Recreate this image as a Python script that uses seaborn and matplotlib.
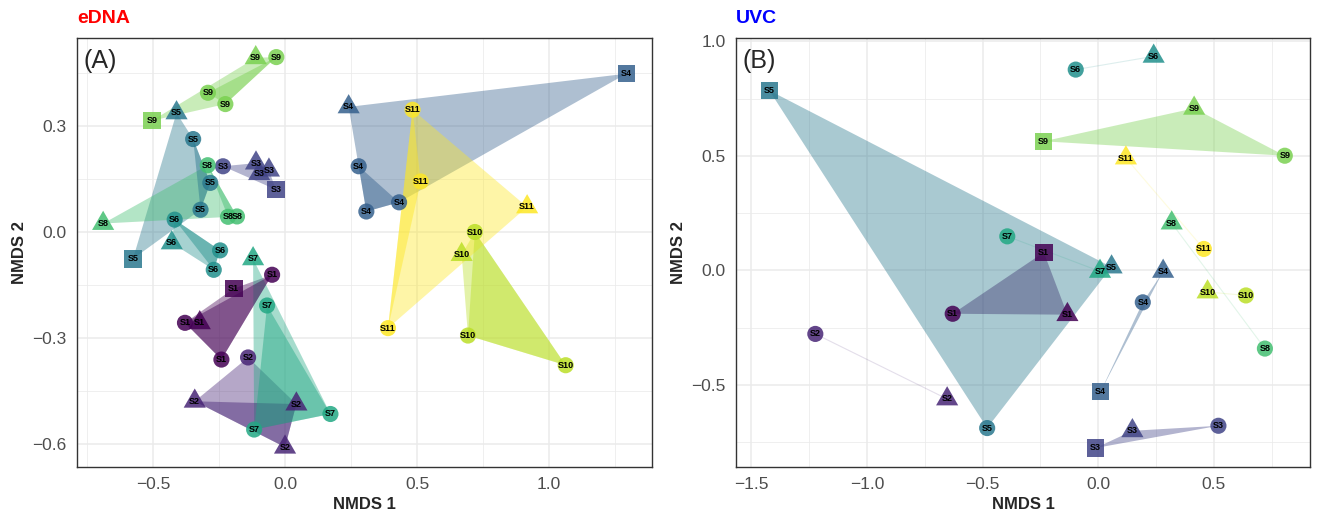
import numpy as np
import pandas as pd
import matplotlib
matplotlib.use('Agg')
import matplotlib.pyplot as plt
import seaborn as sns
from matplotlib.ticker import FuncFormatter, MultipleLocator

# sites and colours (viridis, 11 levels)
sites = ['S1', 'S2', 'S3', 'S4', 'S5', 'S6', 'S7', 'S8', 'S9', 'S10', 'S11']
site_colors = ['#440154', '#482576', '#414487', '#35608D', '#2A788E', '#21908C',
               '#22A884', '#43BF71', '#7AD151', '#BBDF27', '#FDE725']

# eDNA ordination (panel A)
edna_site = ['S1', 'S1', 'S1', 'S1', 'S1',
             'S2', 'S2', 'S2', 'S2',
             'S3', 'S3', 'S3', 'S3', 'S3',
             'S4', 'S4', 'S4', 'S4', 'S4',
             'S5', 'S5', 'S5', 'S5', 'S5',
             'S6', 'S6', 'S6', 'S6',
             'S7', 'S7', 'S7', 'S7',
             'S8', 'S8', 'S8', 'S8',
             'S9', 'S9', 'S9', 'S9', 'S9',
             'S10', 'S10', 'S10', 'S10',
             'S11', 'S11', 'S11', 'S11']
edna_shape = ['circle', 'square', 'circle', 'triangle', 'circle',
              'circle', 'triangle', 'triangle', 'triangle',
              'circle', 'triangle', 'triangle', 'triangle', 'square',
              'triangle', 'circle', 'circle', 'circle', 'square',
              'triangle', 'circle', 'circle', 'circle', 'square',
              'circle', 'triangle', 'circle', 'circle',
              'triangle', 'circle', 'circle', 'circle',
              'circle', 'circle', 'circle', 'triangle',
              'triangle', 'circle', 'circle', 'circle', 'square',
              'circle', 'triangle', 'circle', 'circle',
              'circle', 'circle', 'triangle', 'circle']
edna_x = [-0.049, -0.194, -0.379, -0.323, -0.241,
          -0.140, -0.342, 0.043, 0.000,
          -0.235, -0.110, -0.098, -0.061, -0.035,
          0.241, 0.279, 0.308, 0.432, 1.293,
          -0.411, -0.348, -0.283, -0.320, -0.576,
          -0.418, -0.429, -0.246, -0.270,
          -0.121, -0.068, 0.172, -0.117,
          -0.293, -0.216, -0.182, -0.689,
          -0.111, -0.033, -0.292, -0.226, -0.504,
          0.719, 0.669, 0.693, 1.063,
          0.483, 0.514, 0.917, 0.390]
edna_y = [-0.120, -0.159, -0.256, -0.256, -0.360,
          -0.354, -0.478, -0.486, -0.608,
          0.187, 0.196, 0.166, 0.176, 0.121,
          0.355, 0.187, 0.059, 0.085, 0.449,
          0.338, 0.264, 0.140, 0.064, -0.075,
          0.036, -0.030, -0.051, -0.106,
          -0.075, -0.207, -0.514, -0.558,
          0.190, 0.044, 0.045, 0.025,
          0.494, 0.496, 0.395, 0.363, 0.316,
          0.001, -0.063, -0.292, -0.376,
          0.347, 0.144, 0.072, -0.271]

# UVC ordination (panel B)
uvc_site = ['S1', 'S1', 'S1', 'S2', 'S2', 'S3', 'S3', 'S3', 'S4', 'S4', 'S4',
            'S5', 'S5', 'S5', 'S6', 'S6', 'S7', 'S7', 'S8', 'S8',
            'S9', 'S9', 'S9', 'S10', 'S10', 'S11', 'S11']
uvc_shape = ['circle', 'square', 'triangle', 'circle', 'triangle',
             'circle', 'triangle', 'square', 'circle', 'triangle', 'square',
             'square', 'triangle', 'circle', 'circle', 'triangle',
             'circle', 'triangle', 'triangle', 'circle',
             'triangle', 'square', 'circle', 'triangle', 'circle',
             'triangle', 'circle']
uvc_x = [-0.629, -0.235, -0.133, -1.223, -0.653,
         0.520, 0.148, -0.011, 0.193, 0.281, 0.011,
         -1.422, 0.058, -0.480, -0.097, 0.240,
         -0.393, 0.008, 0.318, 0.721,
         0.415, -0.236, 0.807, 0.473, 0.639,
         0.120, 0.457]
uvc_y = [-0.189, 0.079, -0.193, -0.277, -0.561,
         -0.678, -0.700, -0.775, -0.139, -0.004, -0.528,
         0.786, 0.015, -0.688, 0.877, 0.935,
         0.149, -0.004, 0.207, -0.341,
         0.708, 0.564, 0.501, -0.094, -0.109,
         0.491, 0.094]

palette = dict(zip(sites, site_colors))
tri = [(-1, -0.577), (1, -0.577), (0, 1.155)]
markers = {'circle': ('o', 135), 'square': ('s', 160), 'triangle': (tri, 340)}


def convex_hull(pts):
    pts = sorted(set(pts))
    if len(pts) < 3:
        return pts
    def cross(o, a, b):
        return (a[0] - o[0]) * (b[1] - o[1]) - (a[1] - o[1]) * (b[0] - o[0])
    lower, upper = [], []
    for p in pts:
        while len(lower) >= 2 and cross(lower[-2], lower[-1], p) <= 0:
            lower.pop()
        lower.append(p)
    for p in reversed(pts):
        while len(upper) >= 2 and cross(upper[-2], upper[-1], p) <= 0:
            upper.pop()
        upper.append(p)
    return lower[:-1] + upper[:-1]


def draw_hull(ax, sub, color, alpha):
    pts = list(zip(sub['x'], sub['y']))
    if len(pts) < 2:
        return
    hull = convex_hull(pts)
    hx, hy = zip(*hull)
    if len(hull) < 3:
        ax.plot(hx, hy, color=color, alpha=0.15, lw=0.8, zorder=1)
    else:
        ax.fill(hx, hy, color=color, alpha=alpha, lw=0, zorder=1)


minus_fmt = FuncFormatter(lambda v, p: ('%.1f' % v).replace('-', '\u2212'))


def draw_panel(ax, df, xlim, ylim, xstep, ystep, tag, title, tcolor, shape_hulls):
    for s in sites:
        draw_hull(ax, df[df['site'] == s], palette[s], 0.4)
    if shape_hulls:
        for s in sites:
            for shp in ['circle', 'triangle', 'square']:
                sub = df[(df['site'] == s) & (df['shape'] == shp)]
                if len(sub) >= 3:
                    draw_hull(ax, sub, palette[s], 0.45)
    for shp, (m, size) in markers.items():
        sub = df[df['shape'] == shp]
        sns.scatterplot(data=sub, x='x', y='y', hue='site', palette=palette,
                        marker=m, s=size, alpha=0.85, linewidth=0,
                        legend=False, ax=ax, zorder=3)
    for _, r in df.iterrows():
        ax.text(r['x'], r['y'], r['site'], ha='center', va='center',
                fontsize=6.5, fontweight='bold', color='black', zorder=4)

    ax.set_xlim(*xlim)
    ax.set_ylim(*ylim)
    ax.xaxis.set_major_locator(MultipleLocator(xstep))
    ax.yaxis.set_major_locator(MultipleLocator(ystep))
    ax.xaxis.set_minor_locator(MultipleLocator(xstep / 2))
    ax.yaxis.set_minor_locator(MultipleLocator(ystep / 2))
    ax.xaxis.set_major_formatter(minus_fmt)
    ax.yaxis.set_major_formatter(minus_fmt)
    ax.grid(which='major', color='#EBEBEB', lw=1.1)
    ax.grid(which='minor', color='#EBEBEB', lw=0.55)
    ax.set_axisbelow(True)
    ax.tick_params(which='major', length=4, width=1, color='#333333',
                   labelsize=12.5, labelcolor='#4D4D4D')
    ax.tick_params(which='minor', length=0)
    for sp in ax.spines.values():
        sp.set_color('#333333')
        sp.set_linewidth(1.0)
    ax.set_xlabel('NMDS 1', fontsize=12, fontweight='bold', labelpad=3)
    ax.set_ylabel('NMDS 2', fontsize=12, fontweight='bold', labelpad=4)
    ax.text(0.012, 0.975, tag, transform=ax.transAxes, fontsize=18,
            ha='left', va='top')
    ax.text(0.0, 1.025, title, transform=ax.transAxes, fontsize=14,
            fontweight='bold', color=tcolor, ha='left', va='bottom')


sns.set_style('white')
plt.rcParams['font.family'] = ['Liberation Sans', 'DejaVu Sans']

edna = pd.DataFrame({'site': edna_site, 'shape': edna_shape, 'x': edna_x, 'y': edna_y})
uvc = pd.DataFrame({'site': uvc_site, 'shape': uvc_shape, 'x': uvc_x, 'y': uvc_y})

fig = plt.figure(figsize=(13.18, 5.14), dpi=100)
axA = fig.add_axes([77 / 1318, 47 / 514, 575 / 1318, 429 / 514])
axB = fig.add_axes([736 / 1318, 47 / 514, 574 / 1318, 429 / 514])

draw_panel(axA, edna, (-0.788, 1.39), (-0.664, 0.55), 0.5, 0.3,
           '(A)', 'eDNA', '#FF0000', True)
draw_panel(axB, uvc, (-1.566, 0.916), (-0.858, 1.015), 0.5, 0.5,
           '(B)', 'UVC', '#0000FF', False)

fig.savefig('out.png', dpi=100)
